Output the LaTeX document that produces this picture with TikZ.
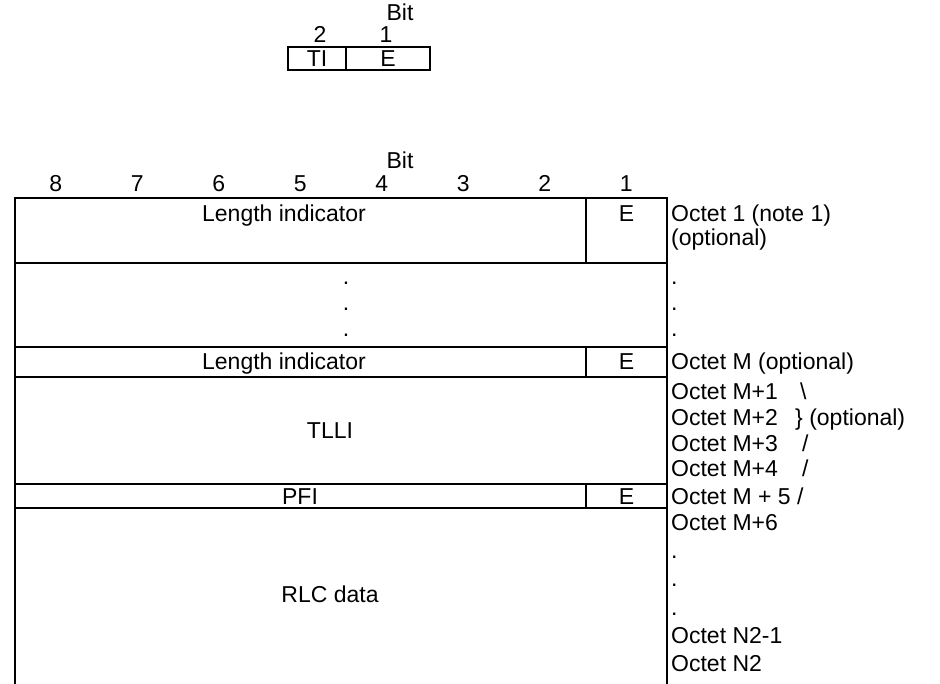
\documentclass[tikz,border=0pt]{standalone}
\usepackage{fontspec}
\setmainfont{Liberation Sans}
\begin{document}
\begin{tikzpicture}[x=1pt,y=-1pt,
  every node/.style={font=\fontsize{23}{27}\selectfont, inner sep=0pt},
  ln/.style={line width=1.6pt},
  ctr/.style={anchor=base},
  lab/.style={anchor=base west}]
\useasboundingbox[fill=white] (0,0) rectangle (940,684);
% ---- small table ----
\node[ctr] (bitA) at (400,20.5) {Bit};
\node[ctr] (a2) at (320,43) {2};
\node[ctr] (a1) at (386,43) {1};
\draw[ln] (288,47) rectangle (430,70);
\draw[ln] (346,47) -- (346,70);
\node[ctr] (ti) at (317,66.5) {TI};
\node[ctr] (ea) at (388,66.5) {E};
% ---- main table ----
\node[ctr] (bitB) at (400,168.5) {Bit};
\foreach \b [count=\i from 0] in {8,7,6,5,4,3,2,1}
  \node[ctr] (n\b) at ({55.75+81.5*\i},191.5) {\b};
\draw[ln] (15,684) -- (15,198) -- (667,198) -- (667,684);
\foreach \yy in {263,347,377,484,508}
  \draw[ln] (15,\yy) -- (667,\yy);
\draw[ln] (586,198) -- (586,263);
\draw[ln] (586,347) -- (586,377);
\draw[ln] (586,484) -- (586,508);
% cell texts
\node[ctr] (li1) at (284,222) {Length indicator};
\node[ctr] (e1) at (626.5,222) {E};
\node[ctr] (d1) at (346,285) {.};
\node[ctr] (d2) at (346,311) {.};
\node[ctr] (d3) at (346,337) {.};
\node[ctr] (li2) at (284,370) {Length indicator};
\node[ctr] (e2) at (626.5,370) {E};
\node[ctr] (tlli) at (330,438.5) {TLLI};
\node[ctr] (pfi) at (300,504) {PFI};
\node[ctr] (e3) at (626.5,504) {E};
\node[ctr] (rlc) at (330,602) {RLC data};
% right labels
\node[lab] (r1) at (671,222) {Octet 1 (note 1)};
\node[lab] (r2) at (671,246) {(optional)};
\node[lab] (r3) at (671,285) {.};
\node[lab] (r4) at (671,311) {.};
\node[lab] (r5) at (671,337) {.};
\node[lab] (r6) at (671,370) {Octet M (optional)};
\node[lab] (r7) at (671,400) {\makebox[129pt][l]{Octet M+1}\textbackslash};
\node[lab] (r8) at (671,425.5) {\makebox[124pt][l]{Octet M+2}\} (optional)};
\node[lab] (r9) at (671,451) {\makebox[131pt][l]{Octet M+3}/};
\node[lab] (r10) at (671,476.5) {\makebox[131pt][l]{Octet M+4}/};
\node[lab] (r11) at (671,504) {Octet M + 5 /};
\node[lab] (r12) at (671,530) {Octet M+6};
\node[lab] (r13) at (671,558) {.};
\node[lab] (r14) at (671,586) {.};
\node[lab] (r15) at (671,615) {.};
\node[lab] (r16) at (671,643) {Octet N2-1};
\node[lab] (r17) at (671,671) {Octet N2};
\end{tikzpicture}
\end{document}
